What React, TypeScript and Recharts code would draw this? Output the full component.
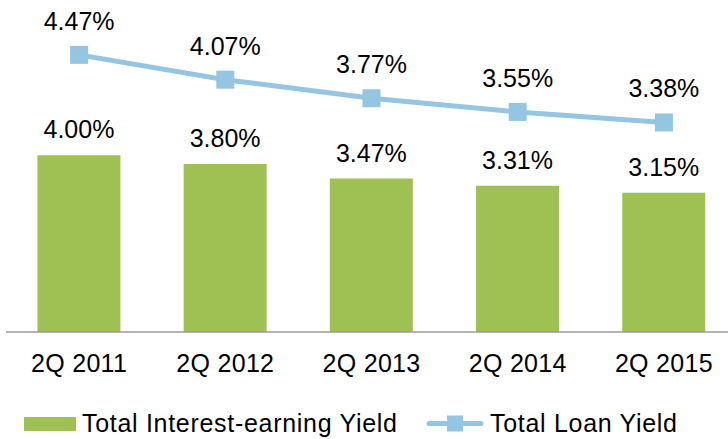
import React from "react";
import {
  ComposedChart,
  Bar,
  Line,
  XAxis,
  YAxis,
  Legend,
  LabelList,
} from "recharts";

const quarters = ["2Q 2011", "2Q 2012", "2Q 2013", "2Q 2014", "2Q 2015"];
const interestYield = [4.0, 3.8, 3.47, 3.31, 3.15];
const loanYield = [4.47, 4.07, 3.77, 3.55, 3.38];

const GREEN = "#9fc052";
const BLUE = "#94c5e2";
const FONT = "'Liberation Sans', Arial, sans-serif";

const chartData = quarters.map((q, i) => ({
  name: q,
  interest: interestYield[i],
  loan: loanYield[i],
}));

const pct = (v: any) => `${Number(v).toFixed(2)}%`;

const SquareDot = (props: any) => {
  const { cx, cy } = props;
  if (cx == null || cy == null) return null;
  return <rect x={cx - 9} y={cy - 9} width={18} height={18} fill={BLUE} />;
};

const LegendBox = () => (
  <div style={{ position: "relative", height: 57, width: 737 }}>
    <svg width={737} height={57} style={{ position: "absolute", left: 0, top: 0 }}>
      <rect x={24} y={35} width={52} height={14} fill={GREEN} />
      <line x1={429} y1={41.5} x2={481} y2={41.5} stroke={BLUE} strokeWidth={5} strokeLinecap="round" />
      <rect x={447} y={33.5} width={16} height={16} fill={BLUE} />
      <text x={82} y={50} fontFamily={FONT} fontSize={25} letterSpacing={0.7} fill="#000">
        Total Interest-earning Yield
      </text>
      <text x={490} y={50} fontFamily={FONT} fontSize={25} letterSpacing={0.7} fill="#000">
        Total Loan Yield
      </text>
    </svg>
  </div>
);

export default function App() {
  return (
    <div
      style={{
        position: "absolute",
        left: 0,
        top: 0,
        width: 728,
        height: 439,
        overflow: "hidden",
        background: "#fff",
      }}
    >
      <ComposedChart
        width={737}
        height={439}
        data={chartData}
        margin={{ top: 0, right: 0, left: 6, bottom: 0 }}
        barCategoryGap="21.5%"
      >
        <XAxis
          dataKey="name"
          axisLine={{ stroke: "#9a9a9a", strokeWidth: 1.5 }}
          tickLine={false}
          tickSize={0}
          tickMargin={22}
          height={50}
          interval={0}
          tick={{ fill: "#000", fontSize: 25, fontFamily: FONT, letterSpacing: 0.3 }}
        />
        <YAxis yAxisId="bar" hide domain={[0, 7.51]} />
        <YAxis yAxisId="line" hide domain={[0, 5.355]} orientation="right" />
        <Legend
          verticalAlign="bottom"
          content={<LegendBox />}
          wrapperStyle={{ left: 0, width: 737 }}
        />
        <Bar yAxisId="bar" dataKey="interest" fill={GREEN} isAnimationActive={false}>
          <LabelList
            dataKey="interest"
            position="top"
            offset={17}
            formatter={pct}
            style={{ fill: "#000", fontSize: 25, fontFamily: FONT }}
          />
        </Bar>
        <Line
          yAxisId="line"
          type="linear"
          dataKey="loan"
          stroke={BLUE}
          strokeWidth={5}
          dot={<SquareDot />}
          activeDot={false}
          isAnimationActive={false}
        >
          <LabelList
            dataKey="loan"
            position="top"
            offset={25}
            formatter={pct}
            style={{ fill: "#000", fontSize: 25, fontFamily: FONT }}
          />
        </Line>
      </ComposedChart>
    </div>
  );
}
